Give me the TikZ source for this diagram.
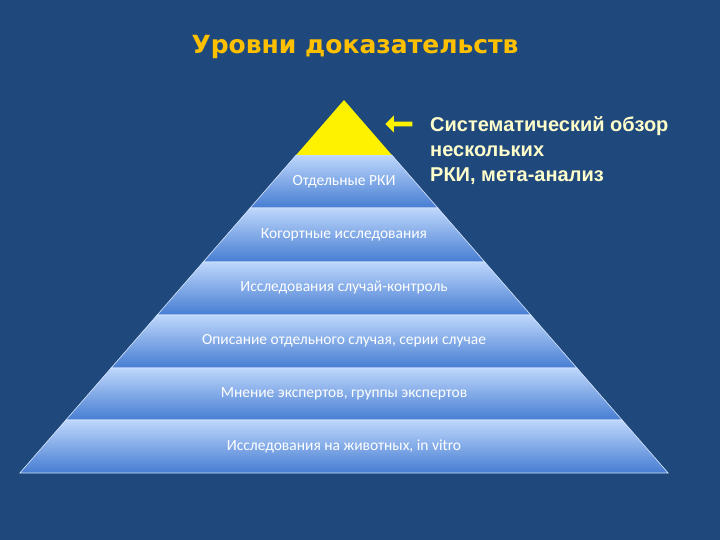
\documentclass[tikz,border=0pt]{standalone}
\usepackage{fontspec}
\setmainfont{Carlito}
\newfontfamily\arialb{Liberation Sans}
\newfontfamily\dejab{DejaVu Sans}
\usetikzlibrary{shapes.arrows}
\definecolor{bg}{RGB}{31,73,125}
\definecolor{ttl}{RGB}{255,192,0}
\definecolor{pale}{RGB}{255,255,204}
\definecolor{ltop}{RGB}{190,215,252}
\definecolor{lbot}{RGB}{70,125,210}
\tikzset{layer/.style={top color=ltop,bottom color=lbot,draw=ltop!60!white,line width=0.6pt},
 ltext/.style={text=white,font=\fontsize{15.5}{18}\selectfont}}
\begin{document}
\begin{tikzpicture}[x=1pt,y=-1pt]
\fill[bg] (0,0) rectangle (720,540);
\useasboundingbox (0,0) rectangle (720,540);
\node[text=ttl,font=\dejab\bfseries\fontsize{25}{30}\selectfont] (title) at (355,47) {Уровни доказательств};
\def\k{0.869}
\foreach \ya/\yb in {155/208,208/262,262/315,315/368,368/420,420/473}{
 \path[layer] ({344-(\ya-100)*\k},\ya) -- ({344+(\ya-100)*\k},\ya) -- ({344+(\yb-100)*\k},\yb) -- ({344-(\yb-100)*\k},\yb) -- cycle;
}
\fill[yellow] (344,100) -- ({344+55*\k},155) -- ({344-55*\k},155) -- cycle;
\node[ltext] (l1) at (344,182) {Отдельные РКИ};
\node[ltext] (l2) at (344,235) {Когортные исследования};
\node[ltext] (l3) at (344,288) {Исследования случай-контроль};
\node[ltext] (l4) at (344,341) {Описание отдельного случая, серии случае};
\node[ltext] (l5) at (344,394) {Мнение экспертов, группы экспертов};
\node[ltext] (l6) at (344,446) {Исследования на животных, in vitro};
\node[single arrow,fill=yellow,draw=none,shape border rotate=180,minimum height=27pt,minimum width=17pt,single arrow head extend=3pt,inner sep=1pt] (arr) at (400,124) {};
\node[text=pale,font=\arialb\bfseries\fontsize{20}{25}\selectfont,align=left,anchor=north west,inner sep=0pt] (desc) at (430,116) {Систематический обзор\\нескольких\\РКИ, мета-анализ};
\end{tikzpicture}
\end{document}
